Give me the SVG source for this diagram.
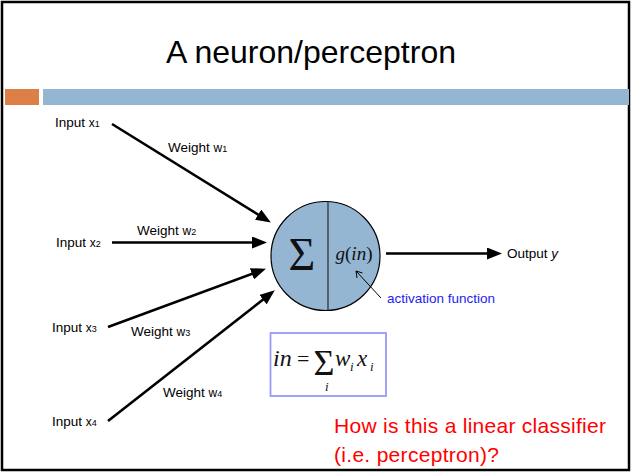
<svg xmlns="http://www.w3.org/2000/svg" width="632" height="474" viewBox="0 0 632 474">
<defs>
<style>
.lbl{font-family:"Liberation Sans",Arial,sans-serif;font-size:13.5px;fill:#000}
.sub{font-size:9px}
.xs{font-size:12px}
.math{font-family:"Liberation Serif","Times New Roman",serif;fill:#111}
.conn{stroke:#000;stroke-width:2.6;fill:none}
</style>
<marker id="ah" markerUnits="userSpaceOnUse" markerWidth="15" markerHeight="12" refX="6" refY="6" orient="auto">
<path d="M0,0 L15,6 L0,12 z" fill="#000"/>
</marker>
</defs>
<rect x="0" y="0" width="632" height="474" fill="#fff"/>
<rect x="2" y="2" width="627" height="468" fill="none" stroke="#000" stroke-width="2.5"/>
<g id="header">
<rect x="5" y="89" width="34" height="16" fill="#DD8047"/>
<rect x="43" y="89" width="586" height="16" fill="#94B6D2"/>
<text x="311" y="63" text-anchor="middle" font-family="Liberation Sans, Arial, sans-serif" font-size="32" fill="#000">A neuron/perceptron</text>
</g>
<g id="input1"><text class="lbl" x="55" y="127">Input <tspan class="xs">x</tspan><tspan class="sub">1</tspan></text></g>
<g id="input2"><text class="lbl" x="56" y="247">Input <tspan class="xs">x</tspan><tspan class="sub">2</tspan></text></g>
<g id="input3"><text class="lbl" x="52" y="332">Input <tspan class="xs">x</tspan><tspan class="sub">3</tspan></text></g>
<g id="input4"><text class="lbl" x="52" y="426">Input <tspan class="xs">x</tspan><tspan class="sub">4</tspan></text></g>
<g id="weights">
<text class="lbl" x="168" y="152">Weight <tspan class="xs">w</tspan><tspan class="sub">1</tspan></text>
<text class="lbl" x="137" y="235">Weight <tspan class="xs">w</tspan><tspan class="sub">2</tspan></text>
<text class="lbl" x="131" y="336">Weight <tspan class="xs">w</tspan><tspan class="sub">3</tspan></text>
<text class="lbl" x="163" y="397">Weight <tspan class="xs">w</tspan><tspan class="sub">4</tspan></text>
</g>
<g id="neuron">
<circle cx="325.5" cy="256" r="54.5" fill="#94B6D3" stroke="#000" stroke-width="1.2"/>
<line x1="328" y1="201.5" x2="328" y2="310.5" stroke="#333" stroke-width="1.3"/>
<text class="math" x="302" y="270" text-anchor="middle" font-size="46">Σ</text>
<text class="math" x="354" y="260" text-anchor="middle" font-size="19"><tspan font-style="italic">g</tspan>(<tspan font-style="italic">in</tspan>)</text>
</g>
<g id="output"><text class="lbl" x="507" y="258">Output <tspan font-style="italic">y</tspan></text></g>
<g id="activation"><text class="lbl" x="387" y="303" style="fill:#2323F0">activation function</text></g>
<g id="formula">
<rect x="270.5" y="333" width="115.5" height="63" fill="#fff" stroke="#9A9AF5" stroke-width="1.8"/>
<text class="math" x="273" y="366" font-size="24" font-style="italic">in</text>
<text class="math" x="297" y="366" font-size="22">=</text>
<text class="math" x="324" y="375" text-anchor="middle" font-size="36">Σ</text>
<text class="math" x="325" y="391" font-size="13" font-style="italic">i</text>
<text class="math" x="335" y="366" font-size="23" font-style="italic">w</text>
<text class="math" x="350" y="371" font-size="13" font-style="italic">i</text>
<text class="math" x="357" y="366" font-size="23" font-style="italic">x</text>
<text class="math" x="370" y="371" font-size="13" font-style="italic">i</text>
</g>
<g id="question" font-family="Liberation Sans, Arial, sans-serif" font-size="21" fill="#FF0000">
<text x="334" y="433" textLength="272" lengthAdjust="spacing">How is this a linear classifier</text>
<text x="334" y="462" textLength="165" lengthAdjust="spacing">(i.e. perceptron)?</text>
</g>
<g id="connectors">
<line id="c1" class="conn" x1="112" y1="124" x2="263.2" y2="217.8" marker-end="url(#ah)"/>
<line id="c2" class="conn" x1="112" y1="242.5" x2="258" y2="242.5" marker-end="url(#ah)"/>
<line id="c3" class="conn" x1="108" y1="327" x2="257.5" y2="271.8" marker-end="url(#ah)"/>
<line id="c4" class="conn" x1="108" y1="421" x2="267.7" y2="295.9" marker-end="url(#ah)"/>
<line id="cout" class="conn" x1="386" y1="253.5" x2="493" y2="253.5" marker-end="url(#ah)"/>
<path id="cact" d="M381,298 L356,271 M356,271 L357,278 M356,271 L362.5,273" fill="none" stroke="#000" stroke-width="1"/>
</g>
</svg>
